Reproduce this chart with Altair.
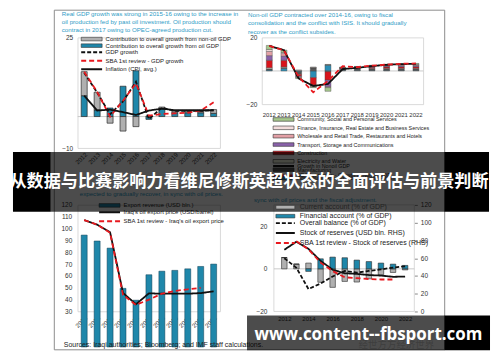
import altair as alt
import pandas as pd

years = list(range(2012, 2023))

# ---------------- Panel 1: real GDP growth ----------------
p1_title = ["Real GDP growth was strong in 2015-16 owing to the increase in",
            "oil production fed by past oil investment. Oil production should",
            "contract in 2017 owing to OPEC-agreed production cut."]
p1_bar_names = ["Contribution to overall growth from non-oil GDP",
                "Contribution to overall growth from oil GDP"]
p1_oil = [6.6, 2.1, 2.7, 9.6, 14.5, -0.9, 2.4, 1.2, 1.2, 1.2, 1.0]
p1_nonoil = [7.6, 5.6, -2.1, -4.6, -3.2, 0.2, 0.6, 0.5, 0.5, 0.5, 1.2]
p1_line_names = ["GDP growth", "SBA 1st review - GDP growth", "Inflation (CPI, avg.)"]
p1_gdp = [13.9, 7.6, 0.7, 4.8, 11.0, -0.8, 2.8, 1.8, 1.8, 1.8, 2.0]
p1_sba = [14.2, 7.8, 0.0, 5.0, 10.5, 0.3, 0.8, 1.0, 1.2, 1.9, 4.5]
p1_cpi = [6.6, 1.9, 2.2, 1.4, 0.5, 1.9, 2.5, 2.0, 2.0, 2.0, 2.0]
p1_yticks = [-10, -5, 0, 5, 10, 15, 20, 25]

# ---------------- Panel 2: non-oil GDP ----------------
p2_title = ["Non-oil GDP contracted over 2014-16, owing to fiscal",
            "consolidation and the conflict with ISIS. It should gradually",
            "recover as the conflict subsides."]
p2_sectors = ["Community, Social and Personal Services",
              "Finance, Insurance, Real Estate and Business Services",
              "Wholesale and Retail Trade, Restaurants and Hotels",
              "Transport, Storage and Communications",
              "Construction",
              "Electricity and Water",
              "Manufacturing",
              "Agriculture, Hunting, Forestry, and Fishing"]
p2_community = [2.4, 1.4, -0.6, -0.5, -2.2, 0.2, 0.1, 0.3, 0.4, 0.4, 0.5]
p2_finance = [1.2, 0.7, 0.3, 0.2, 0.2, 0.1, 0.1, 0.2, 0.3, 0.3, 0.4]
p2_trade = [2.5, 1.5, -0.5, -0.5, -0.5, 0.1, 0.2, 0.3, 0.4, 0.5, 0.5]
p2_transport = [2.8, 2.5, -0.5, -0.5, -4.0, 0.2, 0.3, 0.4, 0.5, 0.6, 0.6]
p2_construction = [4.5, 4.0, -1.0, -4.5, -5.0, 0.3, 0.4, 0.6, 0.8, 0.9, 0.9]
p2_electricity = [0.6, 0.4, 0.3, 0.3, 0.2, 0.3, 0.3, 0.3, 0.3, 0.3, 0.3]
p2_manufacturing = [0.8, 0.5, -1.5, 1.8, -0.5, 0.8, 1.0, 1.0, 1.0, 1.0, 1.0]
p2_agriculture = [0.5, 1.5, -0.5, -4.0, 3.5, 0.3, 0.3, 0.3, 0.3, 0.3, 0.3]
p2_line_names = ["Growth in Nonoil GDP", "SBA 1st review - Growth in Nonoil GDP"]
p2_growth = [15.0, 12.5, -4.5, -9.0, -7.8, 1.1, 1.9, 2.9, 3.7, 4.1, 4.3]
p2_sba = [15.0, 12.3, -3.5, -12.8, -6.0, 2.8, 2.3, 3.2, 3.8, 4.3, 4.5]
p2_yticks = [-20, -15, -10, -5, 0, 5, 10, 15, 20]

# ---------------- Panel 3: exports ----------------
p3_title = ["expected to gradually recover, in sync with oil prices."]
p3_bar_name = ["Export revenue (USD bln.)"]
p3_revenue = [94.5, 89.5, 83.5, 49.5, 39.5, 61.0, 64.0, 64.7, 66.0, 68.0, 70.0]
p3_line_names = ["Iraq's oil export price (USD/barrel)", "SBA 1st review - Iraq's oil export price"]
p3_price = [107.2, 103.3, 96.9, 45.6, 36.1, 45.3, 45.0, 45.0, 45.0, 45.5, 47.0]
p3_sba = [107.2, 103.3, 96.5, 44.0, 35.5, 40.0, 45.0, 47.3, 48.7, 50.0, None]
p3_yticks = [30, 40, 50, 60, 70, 80, 90, 100, 110, 120]

# ---------------- Panel 4: balance of payments ----------------
p4_title = ["sync with oil prices and the fiscal adjustment."]
p4_bar_names = ["Current account (% of GDP)", "Financial account (% of GDP)"]
p4_ca = [5.3, 2.2, 2.7, -6.3, -8.7, -5.9, -6.2, -4.7, -2.8, -1.7, -0.5]
p4_fa = [0.0, 0.0, -1.2, 4.7, 5.5, 5.2, 4.1, 3.4, 2.7, 2.2, 1.6]
p4_line_names = ["Overall balance (% of GDP)", "Stock of reserves (USD bln. RHS)",
                 "SBA 1st review - Stock of reserves (RHS)"]
p4_balance = [5.0, 0.5, -9.5, -6.9, -3.6, -1.0, -1.8, -1.0, -0.3, 0.6, 1.2]
p4_reserves = [69.5, 78.5, 70.5, 57.0, 47.0, 43.0, 42.3, 41.0, 40.4, 39.0, 39.3]
p4_sba = [None, 79.0, 70.0, 55.0, 45.5, 38.5, 37.5, 36.5, 36.0, 36.0, None]
p4_yticks_left = [-20, -10, 0, 10, 20, 30]
p4_yticks_right = [0, 20, 40, 60, 80, 100, 120]
p4_xticks = [2012, 2014, 2016, 2018, 2020, 2022]

# ---------------- overlay texts ----------------
banner_title = "从数据与比赛影响力看维尼修斯英超状态的全面评估与前景判断"
banner_url = "www.content--fbsport.com"
sources_note = "Sources: Iraqi authorities; Bloomberg; and IMF staff calculations."
watermark = "经世方方经济世界"

# ---------------- styles ----------------
FONT = "Liberation Sans"
TEAL = "#2f9cc6"
BLUE = "#1f87aa"
HATCH = "#b0b0b0"
RED = "#e8191f"
BLACK = "#111111"
AXC = "#333333"
p2_colors = ["#a6c78c", "#f3dcdc", "#e3a0a6", "#8a62aa", "#d8141b", "#eef0da", "#575757", "#2b8db5"]
SYM = 9.0          # legend symbol "size" (area); sqrt = 3
SQ = SYM ** 0.5


def long_df(names, series_list):
    rows = []
    for i, (n, vals) in enumerate(zip(names, series_list)):
        for y, v in zip(years, vals):
            if v is not None:
                rows.append({"year": y, "series": n, "value": v, "ord": i})
    return pd.DataFrame(rows)


def bar_legend(x, y, fs, rowpad, w=21.0, h=3.6, gap=2.0):
    r = SQ / 2
    a, b = w / 2 / r, h / 2 / r
    path = f"M{-a:.3f},{-b:.3f}L{a:.3f},{-b:.3f}L{a:.3f},{b:.3f}L{-a:.3f},{b:.3f}Z"
    so = w / 2 - SQ / 2
    return alt.Legend(orient="none", legendX=x, legendY=y, title=None, symbolType=path,
                      symbolSize=SYM, symbolOffset=so, labelOffset=w + gap - SQ - so,
                      labelFont=FONT, labelFontSize=fs, labelColor="#222", rowPadding=rowpad,
                      padding=0, labelLimit=400, symbolStrokeColor="#333", symbolStrokeWidth=0.6,
                      symbolOpacity=1)


def line_legend(x, y, fs, rowpad, w=21.0, gap=2.0, sw=2.0):
    r = SQ / 2
    a = w / 2 / r
    path = f"M{-a:.3f},0L{a:.3f},0"
    so = w / 2 - SQ / 2
    return alt.Legend(orient="none", legendX=x, legendY=y, title=None, symbolType=path,
                      symbolSize=SYM, symbolOffset=so, labelOffset=w + gap - SQ - so,
                      labelFont=FONT, labelFontSize=fs, labelColor="#222", rowPadding=rowpad,
                      padding=0, labelLimit=400, symbolStrokeWidth=sw, symbolFillColor="transparent")


def y_axis(vals, pad, fs=6.5, offset=0):
    return alt.Axis(values=vals, labelFont=FONT, labelFontSize=fs, labelColor=AXC,
                    labelPadding=pad, domain=False, ticks=False, grid=False, title=None, offset=offset)


def band_x(angle, pad, fs=6.2):
    return alt.X("year:O", title=None, scale=alt.Scale(paddingInner=0, paddingOuter=0),
                 axis=alt.Axis(labelAngle=angle, labelFont=FONT, labelFontSize=fs, labelColor=AXC,
                               labelPadding=pad, domain=False, ticks=False, title=None))


one = alt.Data(values=[{"k": 1}])
zero_df = pd.DataFrame({"v": [0]})


def rect(x0, x1_, y0, y1_, **kw):
    return alt.Chart(one).mark_rect(**kw).encode(
        x=alt.value(x0), x2=alt.value(x1_), y=alt.value(y0), y2=alt.value(y1_))


def label(txt, x, y, **kw):
    return alt.Chart(one).mark_text(text=txt, **kw).encode(x=alt.value(x), y=alt.value(y))


def heading(lines, x, y, lh=8.2):
    return label(lines, x, y, align="left", baseline="alphabetic", font=FONT, fontSize=6.2,
                 color=TEAL, lineHeight=lh)


# ================= Panel 1 (plot at page 77,36) =================
W1, H1 = 143, 111
df1b = long_df([p1_bar_names[1], p1_bar_names[0]], [p1_oil, p1_nonoil])
df1l = long_df(p1_line_names, [p1_gdp, p1_sba, p1_cpi])
sc1 = alt.Scale(domain=[-10, 25], nice=False, zero=False)
y1 = alt.Y("value:Q", scale=sc1, axis=y_axis(p1_yticks, 5))
x1 = band_x(-45, 3)

anchor = rect(-69, 415, -28, 314, opacity=0, fillOpacity=0)
bars1 = alt.Chart(df1b).mark_bar(size=6, stroke="#2a2a2a", strokeWidth=0.7).encode(
    x=x1, y=alt.Y("value:Q", stack="zero", scale=sc1, axis=y_axis(p1_yticks, 5)),
    fill=alt.Fill("series:N", scale=alt.Scale(domain=p1_bar_names, range=[HATCH, BLUE]),
                  legend=bar_legend(2, -1.5, 6, 0.6)),
    order=alt.Order("ord:Q"))
rule1 = alt.Chart(zero_df).mark_rule(color="#bdbdbd", strokeWidth=0.8).encode(y="v:Q")
leg1 = line_legend(2, 11.7, 6, 0.6)
lines1 = alt.Chart(df1l).mark_line(strokeWidth=1.8).encode(
    x=x1, y=y1,
    stroke=alt.Stroke("series:N", scale=alt.Scale(domain=p1_line_names, range=[BLACK, RED, BLACK]), legend=leg1),
    strokeDash=alt.StrokeDash("series:N", scale=alt.Scale(domain=p1_line_names, range=[[4, 2], [5, 3], [1, 0]]), legend=leg1))
title1 = heading(p1_title, -16, -21.8)
panel1 = alt.layer(anchor, title1, rule1, bars1, lines1).properties(width=W1, height=H1)

# ================= Panel 2 (plot at page 262,36) =================
W2, H2 = 162, 67
p2_stack_order = list(reversed(p2_sectors))
p2_values = [p2_agriculture, p2_manufacturing, p2_electricity, p2_construction,
             p2_transport, p2_trade, p2_finance, p2_community]
df2b = long_df(p2_stack_order, p2_values)
df2l = long_df(p2_line_names, [p2_growth, p2_sba])
x2 = band_x(0, 7, 6)
sc2 = alt.Scale(domain=[-20, 20], nice=False, zero=False)
y2 = alt.Y("value:Q", scale=sc2, axis=y_axis(p2_yticks, 5))
bars2 = alt.Chart(df2b).mark_bar(size=6, stroke="#444", strokeWidth=0.4).encode(
    x=x2, y=alt.Y("value:Q", stack="zero", scale=sc2, axis=y_axis(p2_yticks, 5)),
    fill=alt.Fill("series:N", scale=alt.Scale(domain=p2_sectors, range=p2_colors),
                  legend=bar_legend(10, 79.5, 5.4, 0.4)),
    order=alt.Order("ord:Q"))
rule2 = alt.Chart(zero_df).mark_rule(color="#bdbdbd", strokeWidth=0.8).encode(y="v:Q")
leg2 = line_legend(10, 79.5 + 8 * 5.85, 5.4, 0.4)
lines2 = alt.Chart(df2l).mark_line(strokeWidth=1.8).encode(
    x=x2, y=y2,
    stroke=alt.Stroke("series:N", scale=alt.Scale(domain=p2_line_names, range=[BLACK, RED]), legend=leg2),
    strokeDash=alt.StrokeDash("series:N", scale=alt.Scale(domain=p2_line_names, range=[[1, 0], [5, 3]]), legend=leg2))
title2 = heading(p2_title, -14, -20.5, lh=8.3)
panel2 = alt.layer(title2, rule2, bars2, lines2).properties(width=W2, height=H2)

# ================= Panel 3 (plot at page 77,204) =================
W3, H3 = 143, 107
df3b = long_df(p3_bar_name, [p3_revenue])
df3l = long_df(p3_line_names, [p3_price, p3_sba])
x3 = band_x(-45, 3)
y3 = alt.Y("value:Q", scale=alt.Scale(domain=[30, 120], nice=False, zero=False),
           axis=y_axis(p3_yticks, 6))
bars3 = alt.Chart(df3b).mark_bar(size=6, stroke="#0d3d52", strokeWidth=0.5).encode(
    x=x3, y=y3,
    fill=alt.Fill("series:N", scale=alt.Scale(domain=p3_bar_name, range=[BLUE]),
                  legend=bar_legend(20, -2.5, 6, 1.0)))
leg3 = line_legend(20, 4.5, 6, 1.0)
lines3 = alt.Chart(df3l).mark_line(strokeWidth=1.8).encode(
    x=x3, y=y3,
    stroke=alt.Stroke("series:N", scale=alt.Scale(domain=p3_line_names, range=[BLACK, RED]), legend=leg3),
    strokeDash=alt.StrokeDash("series:N", scale=alt.Scale(domain=p3_line_names, range=[[1, 0], [5, 3]]), legend=leg3))
title3 = heading(p3_title, 2, -8.8)
panel3 = alt.layer(title3, bars3, lines3).properties(width=W3, height=H3)

# ================= Panel 4 (cell at page 262,204; plot starts 12px in) =================
W4, H4, S4 = 153, 107, 12
df4b = long_df(p4_bar_names, [p4_ca, p4_fa])
df4ob = long_df(p4_line_names[:1], [p4_balance])
df4r = long_df(p4_line_names[1:], [p4_reserves, p4_sba])
x4 = alt.X("year:Q", title=None,
           scale=alt.Scale(domain=[2011.55, 2022.35], range=[S4, W4], nice=False, zero=False),
           axis=alt.Axis(values=p4_xticks, format="d", labelAngle=0, labelFont=FONT, labelFontSize=6,
                         labelColor=AXC, labelPadding=4, domain=False, ticks=False, grid=False, title=None))
sc4l = alt.Scale(domain=[-20, 30], nice=False, zero=False)
y4l = alt.Y("value:Q", scale=sc4l, axis=y_axis(p4_yticks_left, 7, offset=-S4))
y4r = alt.Y("value:Q", scale=alt.Scale(domain=[0, 120], nice=False, zero=False),
            axis=alt.Axis(orient="right", values=p4_yticks_right, labelFont=FONT, labelFontSize=6.5,
                          labelColor=AXC, labelPadding=3, domain=False, ticks=True, tickSize=3,
                          tickColor="#888", grid=False, title=None))
leg4 = line_legend(S4, 14.8, 7, 1.0, w=19, gap=3)
stroke4 = alt.Stroke("series:N", scale=alt.Scale(domain=p4_line_names, range=[BLACK, BLACK, RED]), legend=leg4)
dash4 = alt.StrokeDash("series:N", scale=alt.Scale(domain=p4_line_names, range=[[4, 2], [1, 0], [5, 3]]), legend=leg4)
border4 = rect(S4, W4, 0, H4, fill="transparent", stroke="#d0d0d0", strokeWidth=0.8)
bars4 = alt.Chart(df4b).mark_bar(size=5.5, stroke="#2a2a2a", strokeWidth=0.6).encode(
    x=x4, y=alt.Y("value:Q", stack="zero", scale=sc4l, axis=y_axis(p4_yticks_left, 7, offset=-S4)),
    fill=alt.Fill("series:N", scale=alt.Scale(domain=p4_bar_names, range=[HATCH, BLUE]),
                  legend=bar_legend(S4, -1.2, 7, 1.0, w=19, gap=3)),
    order=alt.Order("ord:Q"))
rule4 = alt.Chart(zero_df).mark_rule(color="#bdbdbd", strokeWidth=0.8).encode(
    y=alt.Y("v:Q", scale=sc4l), x=alt.value(S4), x2=alt.value(W4))
ob4 = alt.Chart(df4ob).mark_line(strokeWidth=1.8).encode(x=x4, y=y4l, stroke=stroke4, strokeDash=dash4)
left4 = alt.layer(rule4, bars4, ob4)
res4 = alt.Chart(df4r).mark_line(strokeWidth=1.8).encode(x=x4, y=y4r, stroke=stroke4, strokeDash=dash4)
title4 = heading(p4_title, -8, -2.8)

# overlays, in pixels relative to this cell (page x 262, y 204)
src = label(sources_note, -199, 141, align="left", baseline="middle", font=FONT, fontSize=7, color="#222")
wm = label(watermark, 135, 141, align="center", baseline="middle", font="Noto Sans CJK SC",
           fontSize=9.5, color="#d0d0d0")
frame = rect(-208.5, 183.5, -195.5, 145.5, fill="transparent", stroke="#8c8c8c", strokeWidth=1)
b1a = rect(-250, -212, -53, 7, color="#000000")
b1b = rect(-212, 183, -53, 7, color="#000000", opacity=0.7)
b1c = rect(183, 228, -53, 7, color="#000000")
t1 = label(banner_title, -13, -23, align="center", baseline="middle", font="Noto Sans CJK SC",
           fontSize=17.2, fontWeight="bold", color="white")
b2a = rect(-15, 183, 111, 146, color="#000000", opacity=0.7)
b2b = rect(183, 229, 111, 146, color="#000000")
t2 = label(banner_url, 107, 131, align="center", baseline="middle", font="Open Sans",
           fontSize=17, fontWeight="bold", color="white")

panel4 = alt.layer(border4, title4, left4, res4, src, wm, frame, b1a, b1b, b1c, t1, b2a, b2b, t2).resolve_scale(
    y="independent").properties(width=W4, height=H4, view=alt.ViewBackground(stroke=None))

chart = alt.concat(panel1, panel2, panel3, panel4, columns=2, bounds="flush",
                   spacing={"row": 57, "column": 42}).resolve_scale(
    fill="independent", stroke="independent", strokeDash="independent"
).resolve_legend(
    fill="independent", stroke="independent", strokeDash="independent"
).properties(
    padding=0, background="white"
).configure_view(stroke="#d0d0d0", strokeWidth=0.8)

chart.save("out.html", embed_options={"renderer": "svg", "actions": False})
